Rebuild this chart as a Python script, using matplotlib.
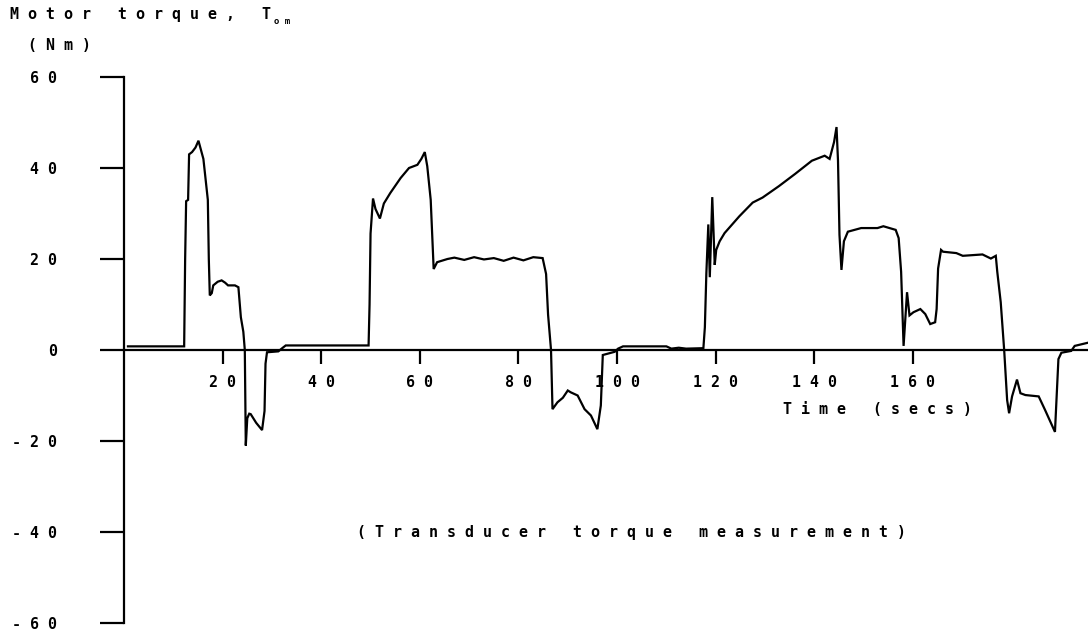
import matplotlib.pyplot as plt

# motor torque trace, read as (time in s, torque in Nm)
time_s = [
    0.8, 12.2, 12.4, 12.6, 13.0, 13.2, 13.8, 14.5, 15.1, 15.6, 16.1, 16.7,
    17.0, 17.2, 17.4, 17.8, 18.1, 19.0, 19.8, 20.5, 21.1, 22.5, 23.2, 23.5,
    23.7, 24.2, 24.5, 24.6, 24.7, 25.0, 25.4, 25.7, 26.8, 28.0, 28.5, 28.7,
    29.0, 31.3, 32.2, 32.8, 40.0, 49.6,
    49.8, 50.0, 50.5, 51.0, 51.9, 52.7, 54.0, 56.1, 57.8, 59.5, 60.3, 61.0,
    61.5, 62.2, 62.8, 63.5, 65.6, 67.0, 69.0, 71.0, 73.0, 75.0, 77.0, 79.0,
    81.0, 83.0, 84.9, 85.6, 86.0, 86.6, 86.9, 87.9, 89.0, 90.0, 90.6, 92.0,
    93.4, 94.7, 96.0, 96.7, 97.1, 99.5, 100.2, 101.2, 110.0, 111.0, 112.5,
    114.0, 117.5,
    117.8, 118.1, 118.5, 118.8, 119.3, 119.8, 120.1, 120.8, 121.8, 124.8,
    127.5, 129.5, 132.8, 136.1, 139.5, 142.1, 143.1, 144.0, 144.5, 144.8,
    145.1, 145.5, 146.0, 146.8, 149.5, 152.8, 154.0, 156.5, 157.1, 157.6,
    158.1, 158.8, 159.3, 160.1, 161.5, 162.5, 163.5, 164.5, 164.8, 165.1,
    165.7, 166.1, 168.8, 170.1, 174.1, 175.8, 176.8, 177.1, 177.8, 178.5,
    179.1, 179.5, 180.1, 181.1, 181.8, 182.8, 185.5, 186.8, 188.8, 189.5,
    190.1, 192.1, 192.8, 195.5,
]
torque_nm = [
    0.8, 0.8, 20.0, 32.7, 33.0, 43.0, 43.5, 44.5, 46.0, 44.0, 42.0, 36.0,
    33.0, 20.0, 12.0, 12.5, 14.2, 15.0, 15.3, 14.8, 14.2, 14.2, 13.8, 10.0,
    7.2, 4.0, 0.0, -10.0, -21.0, -15.0, -14.0, -14.1, -16.0, -17.6, -13.4, -3.0,
    -0.5, -0.3, 0.5, 1.0, 1.0, 1.0,
    10.0, 25.6, 33.3, 31.0, 28.9, 32.2, 34.5, 37.8, 40.0, 40.7, 42.0, 43.5,
    40.4, 33.0, 17.8, 19.3, 20.0, 20.3, 19.8, 20.4, 19.9, 20.2, 19.6, 20.3,
    19.7, 20.4, 20.2, 16.7, 7.8, 0.0, -13.0, -11.5, -10.5, -8.9, -9.3, -10.0,
    -13.0, -14.4, -17.4, -12.2, -1.1, -0.4, 0.3, 0.8, 0.8, 0.3, 0.5,
    0.3, 0.4,
    5.0, 16.8, 27.6, 16.0, 33.6, 18.7, 22.0, 23.9, 25.7, 29.4,
    32.4, 33.5, 36.0, 38.7, 41.6, 42.7, 42.0, 45.7, 49.0, 41.6,
    25.3, 17.6, 23.9, 26.0, 26.8, 26.8, 27.2, 26.4, 24.6, 17.2,
    0.9, 12.7, 7.6, 8.3, 9.0, 7.9, 5.7, 6.1, 9.0, 17.9,
    22.0, 21.6, 21.3, 20.7, 21.0, 20.1, 20.7, 17.2, 10.5, 0.0,
    -11.0, -13.9, -10.2, -6.5, -9.5, -9.9, -10.2, -13.2, -18.0, -2.0,
    -0.6, -0.2, 0.9, 1.6,
]

x_ticks = [20, 40, 60, 80, 100, 120, 140, 160]
y_ticks = [-60, -40, -20, 0, 20, 40, 60]

MONO = 'DejaVu Sans Mono'
SIZE = 10.8


def spaced(text):
    # plotter style lettering: a gap after every character
    return ' '.join(str(text))


fig = plt.figure(figsize=(10.88, 6.37), dpi=100)
ax = fig.add_axes([124 / 1088, 1 - 623 / 637, 964 / 1088, 546 / 637])

ax.plot(time_s, torque_nm, color='black', linewidth=1.6, solid_joinstyle='miter')

ax.set_xlim(0, 195.5)
ax.set_ylim(-60, 60)

for side in ('top', 'right'):
    ax.spines[side].set_visible(False)
ax.spines['bottom'].set_position(('data', 0))
ax.spines['left'].set_linewidth(1.6)
ax.spines['bottom'].set_linewidth(1.6)

ax.set_xticks(x_ticks)
ax.set_xticklabels([spaced(v) for v in x_ticks])
ax.set_yticks(y_ticks)
ax.set_yticklabels([spaced(v) for v in y_ticks])
ax.tick_params(axis='x', direction='out', length=10, width=1.6, pad=8)
ax.tick_params(axis='y', direction='out', length=17, width=1.6, pad=31)
for lab in ax.get_xticklabels() + ax.get_yticklabels():
    lab.set_fontfamily(MONO)
    lab.set_fontweight('bold')
    lab.set_fontsize(SIZE)

txt = dict(fontfamily=MONO, fontweight='bold', fontsize=SIZE, color='black')
fig.text(10 / 1088, 1 - 15 / 637, spaced('Motor torque, T'), ha='left', va='center', **txt)
fig.text(274 / 1088, 1 - 22 / 637, spaced('om'), ha='left', va='center',
         fontfamily=MONO, fontweight='bold', fontsize=6.5)
fig.text(28 / 1088, 1 - 45 / 637, spaced('(Nm)'), ha='left', va='center', **txt)
fig.text(783 / 1088, 1 - 410 / 637, spaced('Time (secs)'), ha='left', va='center', **txt)
fig.text(357 / 1088, 1 - 533 / 637, spaced('(Transducer torque measurement)'),
         ha='left', va='center', **txt)

fig.savefig('out.png', dpi=100)
